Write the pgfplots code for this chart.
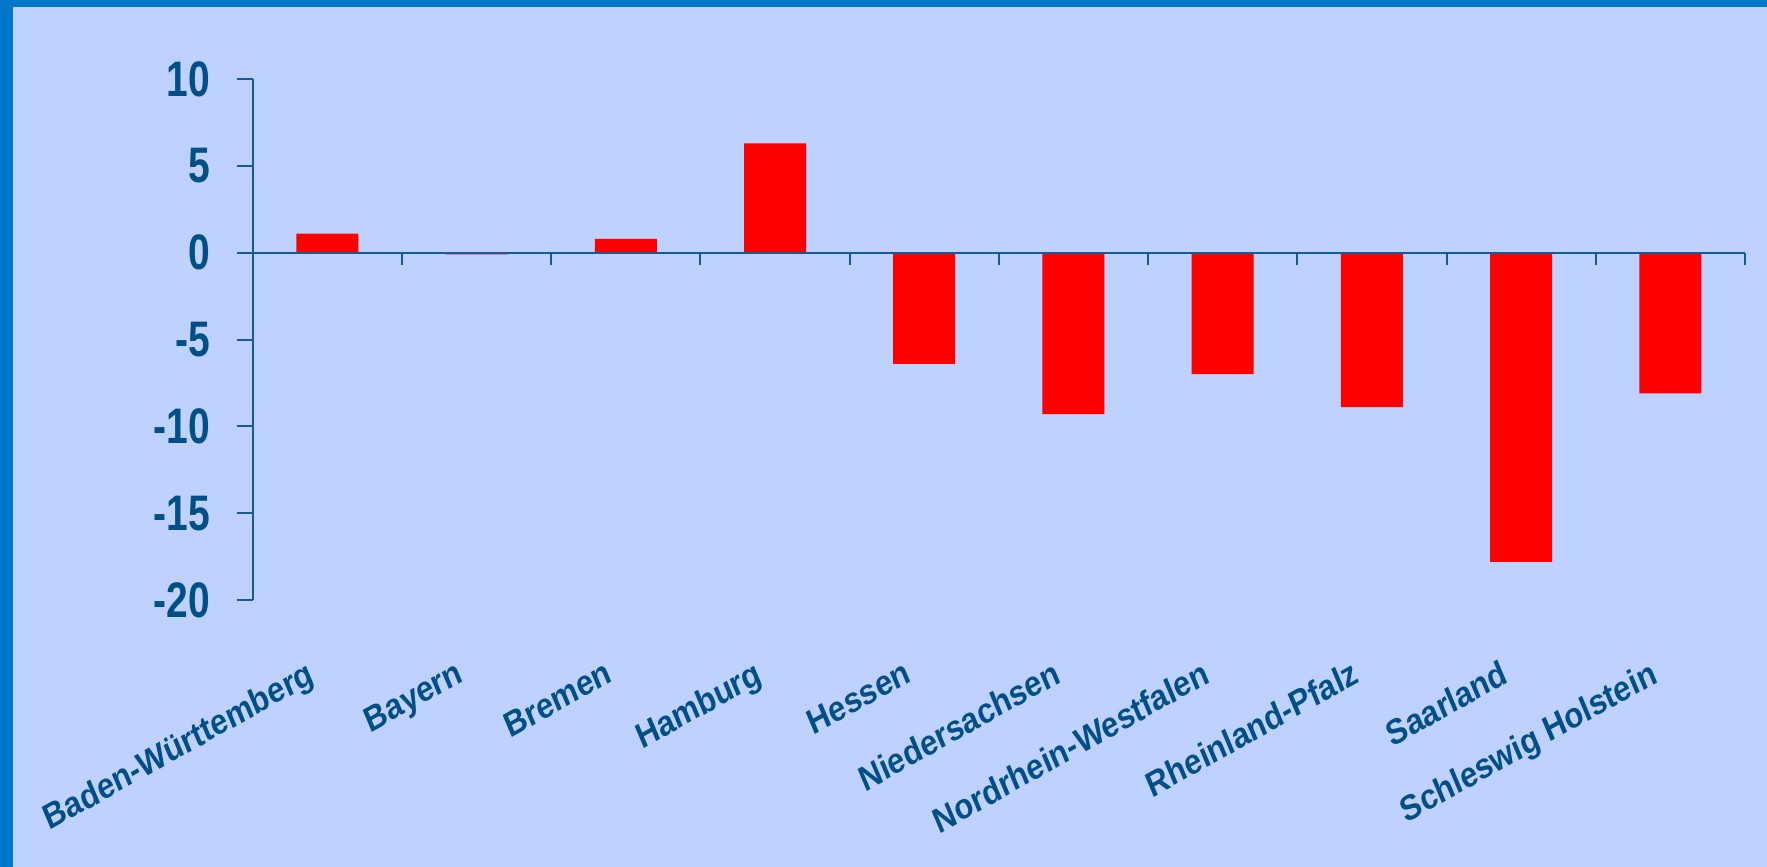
\documentclass[border=0pt]{standalone}
\usepackage{fontspec}
\setmainfont{Liberation Sans}
\usepackage{pgfplots}
\pgfplotsset{compat=1.18}
\definecolor{bgcol}{RGB}{191,209,255}
\definecolor{bordercol}{RGB}{0,119,200}
\definecolor{txtcol}{RGB}{0,80,135}
\definecolor{axcol}{RGB}{25,90,150}
\begin{document}
\begin{tikzpicture}
\fill[bgcol] (-126.35pt,-133.5pt) rectangle (757.15pt,300pt);
\fill[bordercol] (-126.35pt,296.5pt) rectangle (757.15pt,300pt);
\fill[bordercol] (-126.35pt,-133.5pt) rectangle (-119.85pt,300pt);
\begin{axis}[
  at={(0pt,0pt)}, anchor=south west, scale only axis,
  width=746.15pt, height=260.5pt,
  xmin=0, xmax=10, ymin=-20, ymax=10, enlargelimits=false,
  axis y line*=left, axis x line*=bottom,
  x axis line style={draw=none},
  y axis line style={axcol, line width=1pt},
  xtick={0.5,1.5,2.5,3.5,4.5,5.5,6.5,7.5,8.5,9.5},
  xticklabels={Baden-Württemberg,Bayern,Bremen,Hamburg,Hessen,Niedersachsen,Nordrhein-Westfalen,Rheinland-Pfalz,Saarland,Schleswig Holstein},
  x tick style={draw=none},
  ytick={-20,-15,-10,-5,0,5,10},
  yticklabels={-20,-15,-10,-5,0,5,10},
  y tick style={axcol, line width=1pt},
  tick align=outside, major tick length=8pt,
  xticklabel style={font=\fontsize{15.4}{17}\selectfont\bfseries, text=txtcol, inner sep=0pt, anchor=north east, xshift=-10.5pt, yshift=-21pt, yscale=1.15, rotate=26},
  yticklabel style={font=\fontsize{19.5}{21}\selectfont\bfseries, text=txtcol, inner sep=0pt, anchor=east, xshift=-13pt, yscale=1.28},
  clip=false,
]
\addplot[ybar, bar width=31pt, bar shift=0pt, fill=red, draw=none] coordinates {
(0.5,1.1) (1.5,-0.1) (2.5,0.8) (3.5,6.3) (4.5,-6.4) (5.5,-9.3) (6.5,-7.0) (7.5,-8.9) (8.5,-17.8) (9.5,-8.1)};
\draw[axcol, line width=1.1pt] (axis cs:0,0) -- (axis cs:10,0);
\pgfplotsinvokeforeach{0,...,10}{\draw[axcol, line width=1pt] (axis cs:#1,0) -- ++(0pt,-6pt);}
\end{axis}
\pgfresetboundingbox
\path[use as bounding box] (-126.35pt,-133.5pt) rectangle (757.15pt,300pt);
\end{tikzpicture}
\end{document}
